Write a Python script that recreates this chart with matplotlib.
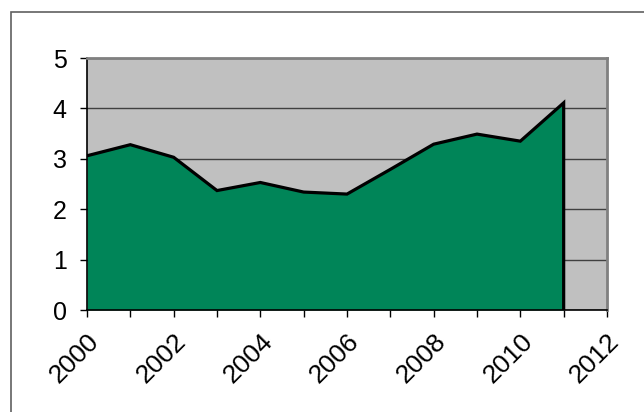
import numpy as np
from matplotlib import pyplot as plt
from matplotlib.patches import Rectangle
from matplotlib.transforms import ScaledTranslation

years = [2000, 2001, 2002, 2003, 2004, 2005, 2006, 2007, 2008, 2009, 2010, 2011]
values = [3.06, 3.28, 3.03, 2.37, 2.53, 2.34, 2.30, 2.79, 3.29, 3.49, 3.35, 4.11]
xticks = [2000, 2002, 2004, 2006, 2008, 2010, 2012]
yticks = [0, 1, 2, 3, 4, 5]

plt.rcParams['font.family'] = ['Liberation Sans', 'DejaVu Sans']

fig = plt.figure(figsize=(6.44, 4.12), dpi=100)
# outer frame (only left and top visible in the original)
fig.patches.append(Rectangle((11/644, -0.1), 1.2, (412 - 12)/412 + 0.1,
                             transform=fig.transFigure, fill=False,
                             edgecolor='#606060', linewidth=1.2))

ax = fig.add_axes([87/644, 102/412, 520/644, 252/412])
ax.set_facecolor('#C0C0C0')

ax.fill_between(years, values, 0, color='#008558', zorder=2, linewidth=0)
ax.plot(years + [years[-1]], values + [0], color='black', linewidth=2.3,
        zorder=3, solid_joinstyle='miter')

ax.set_xlim(2000, 2012)
ax.set_ylim(0, 5)
ax.set_yticks(yticks)
ax.set_xticks(xticks)
ax.set_xticks(range(2000, 2013), minor=True)
ax.set_xticklabels([str(t) for t in xticks], rotation=45, ha='right',
                   va='top', rotation_mode='anchor', fontsize=19)
ax.set_yticklabels([str(t) for t in yticks], fontsize=18)

# nudge the rotated year labels a little to the left
shift = ScaledTranslation(-4/100, 0, fig.dpi_scale_trans)
for lab in ax.get_xticklabels():
    lab.set_transform(lab.get_transform() + shift)

ax.yaxis.grid(True, color='#404040', linewidth=1.0, zorder=1)
ax.set_axisbelow(True)

ax.tick_params(axis='y', length=5, width=1, color='black', pad=9.5)
ax.tick_params(axis='x', which='both', length=5, width=1, color='black', pad=9)

ax.spines['left'].set_color('black')
ax.spines['left'].set_linewidth(1.2)
ax.spines['bottom'].set_color('black')
ax.spines['bottom'].set_linewidth(1.2)
ax.spines['top'].set_color('#808080')
ax.spines['top'].set_linewidth(2)
ax.spines['right'].set_color('#808080')
ax.spines['right'].set_linewidth(2)

fig.savefig("out.png", dpi=100)
plt.close()
